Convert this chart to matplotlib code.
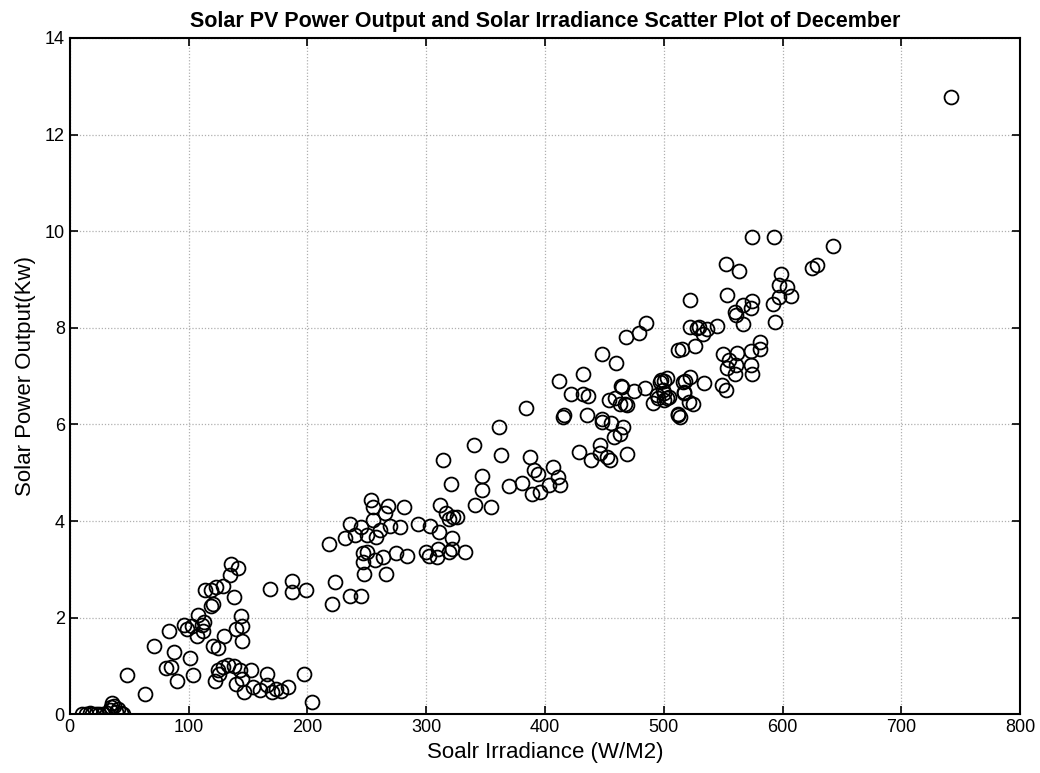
import numpy as np
import matplotlib
matplotlib.use("Agg")
import matplotlib.pyplot as plt

plt.rcParams['font.family'] = ['Liberation Sans', 'DejaVu Sans']

# irradiance (W/M2) and PV output (kW)
irr_low = [10, 14, 17, 19, 22, 25, 28, 31, 34, 35, 36, 37, 39, 41, 43, 45]
pow_low = [0.0, 0.0, 0.02, 0.0, 0.0, 0.01, 0.0, 0.03, 0.08, 0.15, 0.24, 0.18, 0.05, 0.1, 0.03, 0.0]

irr_b = [48, 63, 71, 84, 88, 81, 85, 90, 101, 104,
         96, 99, 103, 107, 108, 111, 112, 113,
         114, 119, 123, 129, 119, 121,
         136, 142, 135, 138, 144, 145, 140, 145, 130, 121, 125,
         125, 129, 133, 138, 143, 126, 122, 140, 147, 145, 153, 154, 160, 166, 166,
         170, 174, 178, 184, 197, 204,
         169, 187, 187, 199]
pow_b = [0.81, 0.41, 1.41, 1.72, 1.29, 0.96, 0.98, 0.69, 1.17, 0.81,
         1.84, 1.77, 1.82, 1.62, 2.06, 1.84, 1.72, 1.91,
         2.57, 2.58, 2.64, 2.66, 2.24, 2.28,
         3.12, 3.02, 2.89, 2.42, 2.03, 1.82, 1.77, 1.51, 1.62, 1.41, 1.38,
         0.91, 0.98, 1.01, 0.99, 0.91, 0.84, 0.69, 0.62, 0.46, 0.74, 0.91, 0.57, 0.50, 0.84, 0.60,
         0.46, 0.53, 0.48, 0.57, 0.84, 0.26,
         2.60, 2.76, 2.53, 2.57]

irr_c = [218, 223, 221, 236, 245,
         232, 236, 240, 245, 250, 254, 255, 255, 258, 261, 265, 268, 270, 278, 281,
         293, 303, 311, 312, 317, 319, 323, 326, 322,
         340, 347, 347, 341, 355, 314, 321, 361, 363,
         247, 250, 247, 257, 264, 275, 284, 300, 302, 309, 310, 319, 322, 333, 248, 266]
pow_c = [3.53, 2.73, 2.29, 2.44, 2.44,
         3.65, 3.93, 3.71, 3.87, 3.71, 4.43, 4.29, 4.02, 3.67, 3.81, 4.16, 4.31, 3.89, 3.87, 4.29,
         3.93, 3.89, 3.78, 4.33, 4.16, 4.05, 4.09, 4.09, 3.64,
         5.57, 4.93, 4.65, 4.33, 4.29, 5.27, 4.76, 5.95, 5.36,
         3.33, 3.36, 3.15, 3.19, 3.26, 3.33, 3.27, 3.36, 3.27, 3.26, 3.43, 3.36, 3.43, 3.36, 2.90, 2.91]

irr_d = [370, 381, 384, 387, 391, 394, 407, 411, 413, 403, 389, 396,
         412, 422, 432, 436, 432, 415, 416, 435,
         429, 439, 446, 446, 455, 452, 469, 458, 463, 466, 448, 456,
         448, 460, 468, 479, 485,
         454, 459, 463, 469, 465, 475, 484, 448, 467, 464]
pow_d = [4.73, 4.79, 6.33, 5.33, 5.05, 4.97, 5.12, 4.91, 4.74, 4.74, 4.56, 4.60,
         6.90, 6.63, 6.63, 6.59, 7.05, 6.16, 6.19, 6.20,
         5.43, 5.26, 5.57, 5.40, 5.26, 5.33, 5.38, 5.74, 5.81, 5.95, 6.05, 6.02,
         7.45, 7.27, 7.81, 7.90, 8.09,
         6.50, 6.54, 6.43, 6.40, 6.78, 6.70, 6.76, 6.12, 6.43, 6.79]

irr_e = [491, 495, 500, 503, 498, 503, 512, 512, 514,
         522, 522, 528, 515, 526,
         497, 516, 522, 494, 504, 499, 517, 521, 525, 512,
         574, 593, 642, 552, 563, 625, 629, 599, 597, 604, 607, 597, 592, 553,
         560, 567, 574, 573, 561, 567, 594, 530, 536, 545, 533,
         550, 562, 573, 581, 581, 555, 553, 561, 560, 573, 574,
         500, 518, 534, 549, 552, 517, 500,
         742]
pow_e = [6.45, 6.54, 6.50, 6.54, 6.92, 6.96, 7.54, 6.19, 6.16,
         8.57, 8.02, 7.99, 7.55, 7.62,
         6.88, 6.88, 6.99, 6.61, 6.57, 6.71, 6.64, 6.47, 6.43, 6.22,
         9.88, 9.88, 9.70, 9.31, 9.18, 9.23, 9.30, 9.11, 8.88, 8.85, 8.66, 8.64, 8.50, 8.68,
         8.33, 8.47, 8.56, 8.40, 8.26, 8.08, 8.12, 8.02, 7.97, 8.03, 7.88,
         7.45, 7.47, 7.52, 7.71, 7.57, 7.34, 7.16, 7.23, 7.05, 7.23, 7.05,
         6.90, 6.90, 6.85, 6.81, 6.71, 6.67, 6.64,
         12.78]

irr = np.array(irr_low + irr_b + irr_c + irr_d + irr_e)
pv = np.array(pow_low + pow_b + pow_c + pow_d + pow_e)

fig = plt.figure(figsize=(10.4, 7.73), dpi=100)
ax = fig.add_axes([0.067, 0.076, 0.914, 0.875])

ax.plot(irr, pv, 'o', mfc='none', mec='black', ms=10, mew=1.3, ls='none')

ax.set_xlim(0, 800)
ax.set_ylim(0, 14)
ax.set_xticks(np.arange(0, 801, 100))
ax.set_yticks(np.arange(0, 15, 2))
ax.grid(True, ls=(0, (1, 1.5)), color='#b0b0b0', lw=0.9)
ax.tick_params(direction='in', length=6, width=1.2, labelsize=13, top=True, right=True)
for s in ax.spines.values():
    s.set_linewidth(1.5)

ax.set_title('Solar PV Power Output and Solar Irradiance Scatter Plot of December',
             fontsize=15.5, fontweight='bold', pad=8)
ax.set_xlabel('Soalr Irradiance (W/M2)', fontsize=16, labelpad=4)
ax.set_ylabel('Solar Power Output(Kw)', fontsize=16, labelpad=6)

fig.savefig('out.png', dpi=100)
